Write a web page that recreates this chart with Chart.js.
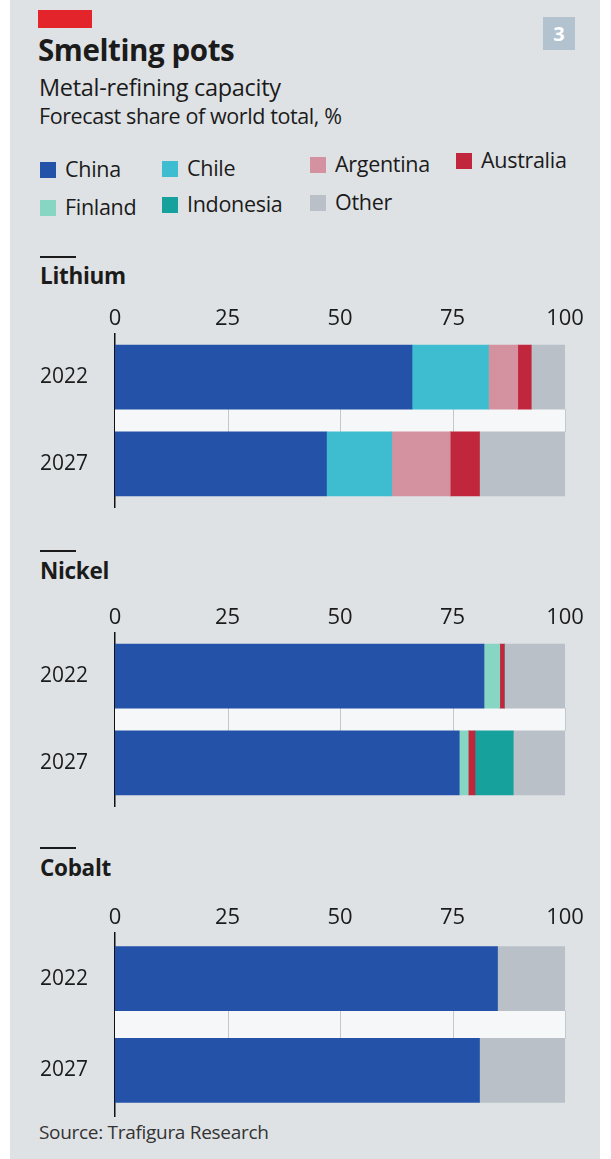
<!DOCTYPE html>
<html>
<head>
<meta charset="utf-8">
<script src="https://cdn.jsdelivr.net/npm/chart.js@4"></script>
<style>
  body { margin: 0; background: #fff; font-family: "Open Sans", sans-serif; color: #1b1b1b; }
  #box { position: absolute; left: 10px; top: 0; width: 590px; height: 1159px; background: #dfe2e5; }
  .abs { position: absolute; white-space: nowrap; }
  .red { left: 28px; top: 10px; width: 54px; height: 18px; background: #e3242b; }
  .num { left: 533px; top: 17px; width: 32px; height: 33px; background: #b2c2cf; color: #fff; font-weight: 700; font-size: 20px; text-align: center; line-height: 33px; }
  .title { left: 28px; top: 29px; font-size: 29.5px; font-weight: 700; letter-spacing: -0.4px; }
  .sub { left: 29px; top: 71px; font-size: 23.5px; letter-spacing: -0.3px; }
  .sub2 { left: 29px; top: 101px; font-size: 21.5px; letter-spacing: -0.4px; }
  .leg { font-size: 21.5px; letter-spacing: -0.3px; }
  .leg i { display: inline-block; width: 16px; height: 16px; margin-right: 9px; vertical-align: -1px; }
  .rule { left: 30px; width: 36px; height: 2px; background: #1b1b1b; }
  .metal { left: 30px; font-size: 22.5px; font-weight: 700; letter-spacing: -0.3px; }
  canvas { position: absolute; left: 30px; }
  .src { left: 29px; top: 1119px; font-size: 19px; color: #333; letter-spacing: -0.3px; }
</style>
</head>
<body>
<div id="box">
  <div class="abs red"></div>
  <div class="abs num">3</div>
  <div class="abs title">Smelting pots</div>
  <div class="abs sub">Metal-refining capacity</div>
  <div class="abs sub2">Forecast share of world total, %</div>

  <div class="abs leg" style="left:30px;top:154px"><i style="background:#2352a8"></i>China</div>
  <div class="abs leg" style="left:152px;top:153px"><i style="background:#3fbdd0"></i>Chile</div>
  <div class="abs leg" style="left:300px;top:149px"><i style="background:#d4919f"></i>Argentina</div>
  <div class="abs leg" style="left:446px;top:145px"><i style="background:#c0273d"></i>Australia</div>
  <div class="abs leg" style="left:30px;top:192px"><i style="background:#86d6c3"></i>Finland</div>
  <div class="abs leg" style="left:152px;top:189px"><i style="background:#17a19c"></i>Indonesia</div>
  <div class="abs leg" style="left:300px;top:187px"><i style="background:#b9c0c7"></i>Other</div>

  <div class="abs rule" style="top:256px"></div>
  <div class="abs metal" style="top:260px">Lithium</div>
  <div class="abs rule" style="top:550px"></div>
  <div class="abs metal" style="top:555px">Nickel</div>
  <div class="abs rule" style="top:847px"></div>
  <div class="abs metal" style="top:852px">Cobalt</div>

  <div class="abs src">Source: Trafigura Research</div>
</div>
<canvas id="lithium" width="560" height="237" style="top:302px"></canvas>
<canvas id="nickel" width="560" height="237" style="top:601px"></canvas>
<canvas id="cobalt" width="560" height="247" style="top:901px"></canvas>

<script>
// categories and tick labels
var years = ['2022', '2027'];
var tickValues = [0, 25, 50, 75, 100];

// lithium, % of world refining capacity
var lithiumChina = [66, 47];
var lithiumChile = [17, 14.5];
var lithiumArgentina = [6.5, 13];
var lithiumAustralia = [3, 6.5];
var lithiumOther = [7.5, 19];

// nickel
var nickelChina = [82, 76.5];
var nickelFinland = [3.5, 2];
var nickelAustralia = [1, 1.5];
var nickelIndonesia = [0, 8.5];
var nickelOther = [13.5, 11.5];

// cobalt
var cobaltChina = [85, 81];
var cobaltOther = [15, 19];

var colors = {
    China: '#2352a8',
    Chile: '#3fbdd0',
    Argentina: '#d4919f',
    Finland: '#86d6c3',
    Australia: '#c0273d',
    Indonesia: '#17a19c',
    Other: '#b9c0c7'
};

// light band between the two bars, with the gridlines showing through it
var gapBand = {
    id: 'gapBand',
    beforeDatasetsDraw: function(chart) {
        var meta = chart.getDatasetMeta(0);
        var a = meta.data[0].getProps(['y', 'height'], true);
        var b = meta.data[1].getProps(['y', 'height'], true);
        var top = a.y + a.height / 2;
        var bottom = b.y - b.height / 2;
        var x = chart.scales.x;
        var ctx = chart.ctx;
        ctx.save();
        ctx.fillStyle = '#f6f7f8';
        ctx.fillRect(x.left, top, x.right - x.left, bottom - top);
        ctx.strokeStyle = '#c3c8cd';
        ctx.lineWidth = 1;
        tickValues.slice(1).forEach(function(v) {
            var px = Math.round(x.getPixelForValue(v)) + 0.5;
            ctx.beginPath();
            ctx.moveTo(px, top);
            ctx.lineTo(px, bottom);
            ctx.stroke();
        });
        ctx.restore();
    }
};

function drawPanel(id, series) {
    var datasets = [];
    for (var name in series) {
        datasets.push({
            label: name,
            data: series[name],
            backgroundColor: colors[name],
            borderWidth: 0,
            barThickness: 64,
            categoryPercentage: 1
        });
    }
    new Chart(document.getElementById(id), {
        type: 'bar',
        data: { labels: years, datasets: datasets },
        plugins: [gapBand],
        options: {
            indexAxis: 'y',
            animation: false,
            responsive: false,
            layout: { padding: { left: 0, right: 25, top: 0, bottom: 0 } },
            plugins: { legend: { display: false }, tooltip: { enabled: false } },
            scales: {
                x: {
                    position: 'top',
                    stacked: true,
                    min: 0,
                    max: 100,
                    afterBuildTicks: function(scale) {
                        scale.ticks = tickValues.map(function(v) { return { value: v }; });
                    },
                    ticks: {
                        color: '#1b1b1b',
                        font: { family: 'Open Sans', size: 22 },
                        padding: 2,
                        maxRotation: 0
                    },
                    grid: { display: false, drawTicks: false },
                    border: { display: false }
                },
                y: {
                    stacked: true,
                    afterFit: function(scale) { scale.width = 85; },
                    ticks: {
                        color: '#1b1b1b',
                        font: { family: 'Open Sans', size: 21 },
                        padding: 19
                    },
                    grid: { display: false },
                    border: { display: true, color: '#111', width: 1.5 }
                }
            }
        }
    });
}

drawPanel('lithium', {
    China: lithiumChina,
    Chile: lithiumChile,
    Argentina: lithiumArgentina,
    Australia: lithiumAustralia,
    Other: lithiumOther
});
drawPanel('nickel', {
    China: nickelChina,
    Finland: nickelFinland,
    Australia: nickelAustralia,
    Indonesia: nickelIndonesia,
    Other: nickelOther
});
drawPanel('cobalt', {
    China: cobaltChina,
    Other: cobaltOther
});
</script>
</body>
</html>
